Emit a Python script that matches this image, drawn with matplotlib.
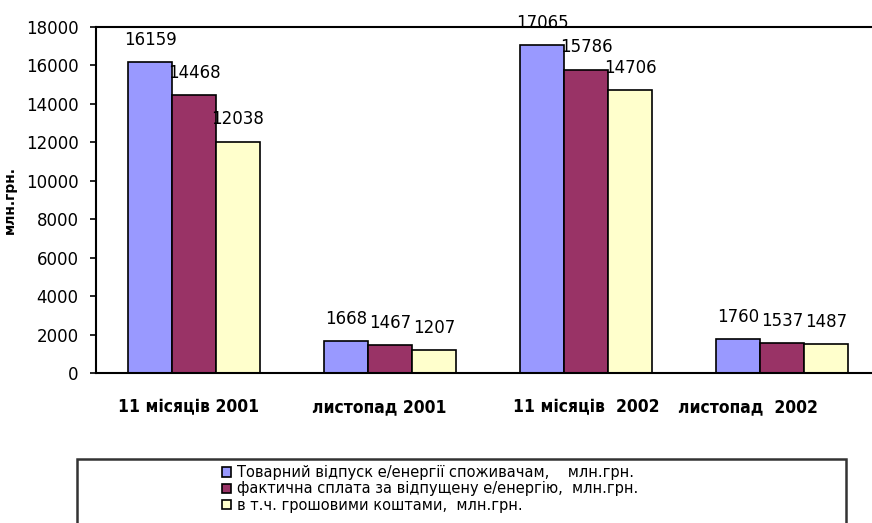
import numpy as np
import matplotlib.pyplot as plt
from matplotlib.patches import Rectangle
from matplotlib.transforms import ScaledTranslation

categories = ["11 місяців 2001", "листопад 2001", "11 місяців  2002", "листопад  2002"]
supplied = [16159, 1668, 17065, 1760]
paid = [14468, 1467, 15786, 1537]
cash = [12038, 1207, 14706, 1487]
series_names = [
    "Товарний відпуск е/енергії споживачам,    млн.грн.",
    "фактична сплата за відпущену е/енергію,  млн.грн.",
    "в т.ч. грошовими коштами,  млн.грн.",
]
colors = ["#9999FF", "#993366", "#FFFFCC"]
yticks = list(range(0, 18001, 2000))

fig = plt.figure(figsize=(8.72, 5.23), dpi=100)
ax = fig.add_axes([96 / 872, 1 - 373 / 523, 1 - 96 / 872, (373 - 27) / 523])

x = np.arange(len(categories))
w = 44 / 196
for i, vals in enumerate([supplied, paid, cash]):
    pos = x + (i - 1) * w
    ax.bar(pos, vals, w, color=colors[i], edgecolor="black", linewidth=1.2,
           label=series_names[i], zorder=2)
    for px, v in zip(pos, vals):
        ax.annotate(str(v), (px, v), xytext=(0, 16), textcoords="offset points",
                    ha="center", va="center", fontsize=12)

ax.set_xlim(-0.5, -0.5 + 776 / 196)
ax.set_ylim(0, 18000)
ax.set_yticks(yticks)
ax.tick_params(axis="y", direction="out", length=4, width=1.2, pad=8.5, labelsize=12)
ax.set_xticks(x)
ax.set_xticklabels(categories, fontsize=12.5, fontweight="bold", fontstretch="condensed")
ax.tick_params(axis="x", length=0, pad=18)
# Excel nudged the category labels a little to the left
for lbl, dx in zip(ax.get_xticklabels(), [-5, -11, 0, -34]):
    lbl.set_transform(lbl.get_transform() + ScaledTranslation(dx / 100, 0, fig.dpi_scale_trans))
ax.spines["right"].set_visible(False)
for s in ["left", "bottom", "top"]:
    ax.spines[s].set_linewidth(1.5)
ax.set_ylabel("млн.грн.", fontsize=10, fontweight="bold")
ax.yaxis.set_label_coords(-79 / 776, 0.5)

# legend box, cut off at the bottom edge
fig.patches.append(Rectangle((77 / 872, -0.1), (846 - 77) / 872, 0.1 + 1 - 459 / 523,
                             transform=fig.transFigure, fill=False,
                             edgecolor="#333333", linewidth=1.8))
handles, labels = ax.get_legend_handles_labels()
fig.legend(handles, labels, loc="upper left", bbox_to_anchor=(222 / 872, 1 - 465 / 523),
           frameon=False, fontsize=10.5, labelspacing=0.1, handlelength=0.6,
           handleheight=0.6, handletextpad=0.4, borderpad=0, borderaxespad=0)

fig.savefig("out.png", dpi=100)
